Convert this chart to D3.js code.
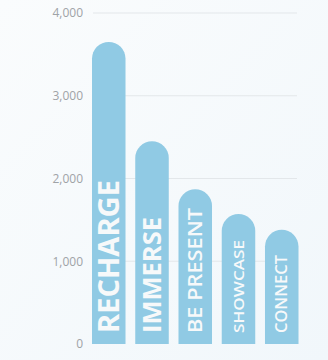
<!DOCTYPE html>
<html>
<head>
<meta charset="utf-8">
<script src="https://cdn.jsdelivr.net/npm/d3@7"></script>
<style>
  body { margin: 0; background: #f5f9fc; }
</style>
</head>
<body>
<div id="chart"></div>
<script>
var width = 328;
var height = 360;

// data
var categories = ["RECHARGE", "IMMERSE", "BE PRESENT", "SHOWCASE", "CONNECT"];
var values = [3650, 2450, 1870, 1570, 1380];
var ticks = [0, 1000, 2000, 3000, 4000];

// label font size + length per bar (the original scales them to fit)
var labelFont = [28, 25, 19, 15, 15.5];
var labelLen = [153, 116, 125, 93, 78];
var labelWeight = [700, 700, 600, 600, 600];

var svg = d3.select("#chart")
  .append("svg")
  .attr("width", width)
  .attr("height", height);

var bg = svg.append("defs").append("linearGradient")
  .attr("id", "bg").attr("x1", 0).attr("y1", 0).attr("x2", 1).attr("y2", 1);
bg.append("stop").attr("offset", 0).attr("stop-color", "#fafcfd");
bg.append("stop").attr("offset", 1).attr("stop-color", "#f1f7fb");

svg.append("rect")
  .attr("width", width)
  .attr("height", height)
  .style("fill", "url(#bg)");

var y = d3.scaleLinear().domain([0, 4000]).range([344, 13]);
var x = d3.scaleBand().domain(categories).range([92, 298.5])
  .paddingInner(0.225).paddingOuter(0);

// grid lines
svg.append("g").selectAll("line")
  .data(ticks.filter(function (t) { return t > 0; }))
  .enter().append("line")
  .attr("x1", 93).attr("x2", 297)
  .attr("y1", function (d) { return y(d); })
  .attr("y2", function (d) { return y(d); })
  .style("stroke", "#e3e7ea")
  .style("stroke-width", 1);

// axis labels
var axis = d3.axisLeft(y).tickValues(ticks).tickSize(0).tickPadding(0)
  .tickFormat(d3.format(","));
var ax = svg.append("g").attr("transform", "translate(83,0)").call(axis);
ax.select(".domain").remove();
ax.selectAll("text")
  .style("font-family", "'Open Sans', sans-serif")
  .style("font-size", "12px")
  .style("fill", "#9fa3a7");

// rounded-top bars
var bw = x.bandwidth();
function barPath(d, i) {
  var x0 = x(categories[i]);
  var r = bw / 2;
  var top = y(d);
  var base = y(0);
  return "M" + x0 + "," + base +
    "L" + x0 + "," + (top + r) +
    "A" + r + "," + r + " 0 0 1 " + (x0 + bw) + "," + (top + r) +
    "L" + (x0 + bw) + "," + base + "Z";
}

svg.append("g").selectAll("path")
  .data(values)
  .enter().append("path")
  .attr("d", barPath)
  .style("fill", "#90cae4");

// rotated labels inside bars
svg.append("g").selectAll("text")
  .data(categories)
  .enter().append("text")
  .attr("transform", function (d, i) {
    var cx = x(d) + bw / 2 + labelFont[i] * 0.36;
    return "translate(" + cx + ",333) rotate(-90)";
  })
  .attr("textLength", function (d, i) { return labelLen[i]; })
  .attr("lengthAdjust", "spacingAndGlyphs")
  .style("font-family", "'Open Sans', sans-serif")
  .style("font-weight", function (d, i) { return labelWeight[i]; })
  .style("font-size", function (d, i) { return labelFont[i] + "px"; })
  .style("fill", "#f7f9fa")
  .text(function (d) { return d; });
</script>
</body>
</html>
